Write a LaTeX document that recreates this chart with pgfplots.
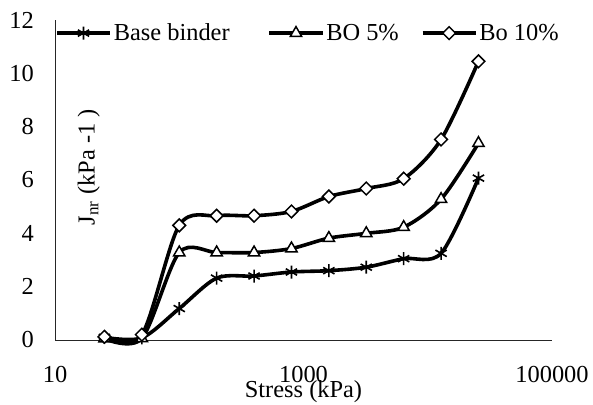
\documentclass[border=0pt]{standalone}
\usepackage{fontspec}
\setmainfont{Liberation Serif}
\usepackage{pgfplots}
\pgfplotsset{compat=1.18}
\begin{document}
\begin{tikzpicture}
\useasboundingbox (-55bp,-65bp) rectangle (538bp,340bp);
\begin{axis}[
  at={(0,0)}, anchor=south west,
  scale only axis, width=497bp, height=320bp,
  xmode=log, xmin=10, xmax=100000,
  ymin=0, ymax=12,
  axis x line=bottom, axis y line=left,
  axis line style={-, line width=1bp, black!85},
  xtick={10,1000,100000}, xticklabels={10,1000,100000},
  ytick={0,2,4,6,8,10,12},
  minor x tick num=0, xminorticks=false,
  major tick length=0pt,
  tick style={draw=none},
  /pgf/number format/assume math mode=true,
  font=\fontsize{24.5}{29}\selectfont,
  xticklabel style={anchor=base, inner sep=0pt, yshift=-42bp},
  yticklabel style={anchor=east, inner sep=0pt, xshift=-21bp},
  xlabel={Stress (kPa)},
  xlabel style={at={(axis description cs:0.5,0)}, anchor=base, yshift=-57bp, inner sep=0pt},
  ylabel={J\textsubscript{nr} (kPa -1 )},
  ylabel style={at={(axis description cs:0.068,0.54)}, anchor=center},
  clip=false,
  legend columns=3,
  legend style={at={(axis description cs:0,0.959)}, anchor=west, draw=none, fill=none,
    inner sep=0pt, font=\fontsize{24.5}{29}\selectfont,
    /tikz/column 2/.style={column sep=36bp},
    /tikz/column 4/.style={column sep=20bp}},
  legend cell align=left,
  legend image code/.code={\draw[mark repeat=2,mark phase=2,#1] plot coordinates {(0bp,0bp)(26.5bp,0bp)(53bp,0bp)};},
]
\addplot[black, line width=3.6bp, smooth, tension=0.5, mark=asterisk, mark size=6.5bp, mark options={line width=1.6bp}] coordinates {
(25,0.1) (50,0.08) (100,1.18) (200,2.32) (400,2.4) (800,2.55) (1600,2.6) (3200,2.73) (6400,3.05) (12800,3.25) (25600,6.07)};
\addlegendentry{Base binder}
\addplot[black, line width=3.6bp, smooth, tension=0.5, mark=triangle*, mark size=6.5bp, mark options={fill=white, line width=1.5bp}] coordinates {
(25,0.05) (50,0.06) (100,3.28) (200,3.28) (400,3.28) (800,3.43) (1600,3.82) (3200,4.0) (6400,4.23) (12800,5.28) (25600,7.38)};
\addlegendentry{BO 5\%}
\addplot[black, line width=3.6bp, smooth, tension=0.5, mark=square*, mark size=4.5bp, mark options={fill=white, rotate=45, line width=1.5bp}] coordinates {
(25,0.12) (50,0.2) (100,4.3) (200,4.66) (400,4.66) (800,4.82) (1600,5.38) (3200,5.68) (6400,6.05) (12800,7.52) (25600,10.45)};
\addlegendentry{Bo 10\%}
\end{axis}
\end{tikzpicture}
\end{document}
